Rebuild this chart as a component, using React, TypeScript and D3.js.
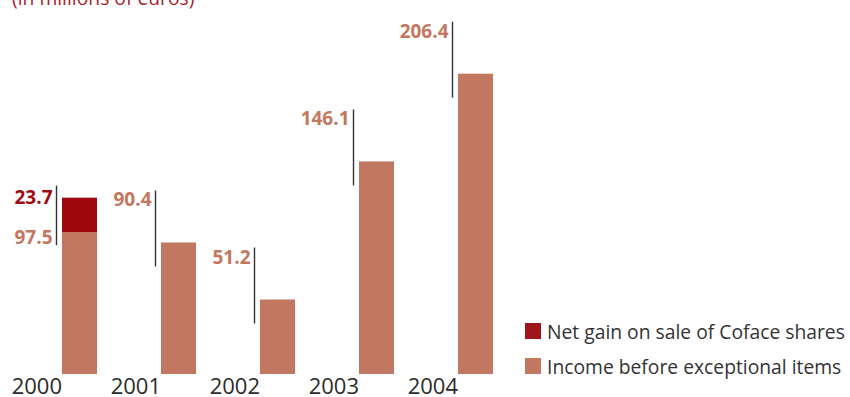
import React from "react";
import * as d3 from "d3";

const years = ["2000", "2001", "2002", "2003", "2004"];
const incomeValues = [97.5, 90.4, 51.2, 146.1, 206.4];
const gainValues = [23.7, 0, 0, 0, 0];
const legendLabels = ["Net gain on sale of Coface shares", "Income before exceptional items"];
const title = "(in millions of euros)";

const W = 850;
const H = 397;
const baseY = 374;
const FONT = "'Open Sans', 'Noto Sans', sans-serif";
const C_INCOME = "#C27760";
const C_GAIN = "#A0070F";
const C_INCOME_TXT = "#C4775F";
const C_GAIN_TXT = "#9E0A12";

export default function App() {
  const x = d3.scaleBand<string>().domain(years).range([62, 493]).paddingInner(64 / 99).paddingOuter(0);
  const bw = x.bandwidth();
  const y = d3.scaleLinear().domain([0, 250]).range([baseY, baseY - 250 * 1.455]);

  return (
    <svg width={W} height={H} style={{ position: "absolute", left: 0, top: 0, display: "block" }} fontFamily={FONT}>
      <text x={12} y={4.5} fontSize={19.3} fill="#A8232A">{title}</text>
      {years.map((yr, i) => {
        const inc = incomeValues[i];
        const gain = gainValues[i];
        const xl = x(yr) as number;
        const yInc = y(inc);
        const yTop = y(inc + gain);
        const lx = xl - 5.5;
        return (
          <g key={yr}>
            <rect x={xl} y={yInc} width={bw} height={baseY - yInc} fill={C_INCOME} />
            {gain > 0 && <rect x={xl} y={yTop} width={bw} height={yInc - yTop} fill={C_GAIN} />}
            {gain > 0 ? (
              <>
                <line x1={lx} x2={lx} y1={yTop - 12} y2={yInc + 13} stroke="#333" strokeWidth={1.4} />
                <text x={lx - 4} y={yTop + 6} textAnchor="end" fontSize={19} fontWeight="bold" fill={C_GAIN_TXT}>
                  {gain.toFixed(1)}
                </text>
                <text x={lx - 4} y={yInc + 12} textAnchor="end" fontSize={19} fontWeight="bold" fill={C_INCOME_TXT}>
                  {inc.toFixed(1)}
                </text>
              </>
            ) : (
              <>
                <line x1={lx} x2={lx} y1={yInc - 52} y2={yInc + 24} stroke="#333" strokeWidth={1.4} />
                <text x={lx - 4} y={yInc - 36} textAnchor="end" fontSize={19} fontWeight="bold" fill={C_INCOME_TXT}>
                  {inc.toFixed(1)}
                </text>
              </>
            )}
            <text x={xl} y={394} textAnchor="end" fontSize={22} fill="#2b2b2b">{yr}</text>
          </g>
        );
      })}
      {legendLabels.map((lab, i) => (
        <g key={lab} transform={`translate(525, ${323 + i * 35})`}>
          <rect x={0} y={0} width={16} height={16} fill={i === 0 ? "#A0141B" : C_INCOME} />
          <text x={22} y={15.5} fontSize={19.3} fill="#333">{lab}</text>
        </g>
      ))}
    </svg>
  );
}
